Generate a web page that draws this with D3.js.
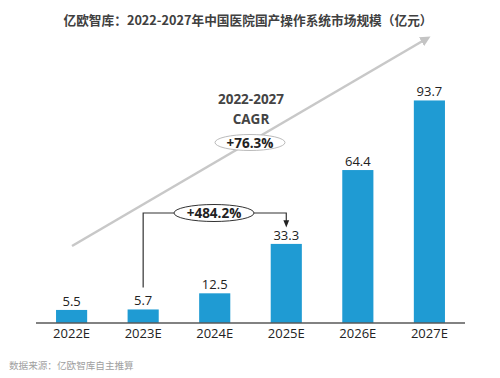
<!DOCTYPE html>
<html><head><meta charset="utf-8">
<script src="https://cdn.jsdelivr.net/npm/d3@7"></script>
<style>body{margin:0;background:#fff}svg{display:block}</style>
</head><body>
<svg id="c" width="500" height="378"></svg>
<script>
const categories = ["2022E","2023E","2024E","2025E","2026E","2027E"];
const values = [5.5, 5.7, 12.5, 33.3, 64.4, 93.7];
const valueLabels = ["5.5","5.7","12.5","33.3","64.4","93.7"];
const titleText = "亿欧智库：2022-2027年中国医院国产操作系统市场规模（亿元）";
const sourceText = "数据来源：亿欧智库自主推算";
const cagrLines = ["2022-2027","CAGR"];
const cagrValue = "+76.3%";
const growthLabel = "+484.2%";

const font = "'Noto Sans CJK SC','Noto Sans',sans-serif";
const svg = d3.select("#c");
const x = d3.scaleBand().domain(categories).range([36,465]).paddingInner(0.565).paddingOuter(0.28);
const y = d3.scaleLinear().domain([0,100]).range([323, 85.5]);

svg.append("text").attr("x",248).attr("y",25).attr("text-anchor","middle")
  .attr("font-family",font).attr("font-weight","bold").attr("font-size",12.7).attr("fill","#404040").text(titleText);

// CAGR arrow
const defs = svg.append("defs");
defs.append("marker").attr("id","ga").attr("viewBox","0 0 10 10").attr("refX",5).attr("refY",5)
  .attr("markerWidth",4).attr("markerHeight",4).attr("orient","auto")
  .append("path").attr("d","M0,0L10,5L0,10Z").attr("fill","#c4c4c4");
defs.append("marker").attr("id","ba").attr("viewBox","0 0 10 10").attr("refX",5).attr("refY",5)
  .attr("markerWidth",6).attr("markerHeight",6).attr("orient","auto")
  .append("path").attr("d","M0,1L10,5L0,9Z").attr("fill","#222");
svg.append("line").attr("x1",72).attr("y1",246).attr("x2",426).attr("y2",39)
  .attr("stroke","#c8c8c8").attr("stroke-width",2.6).attr("marker-end","url(#ga)");

// bars
svg.selectAll("rect.bar").data(values).join("rect").attr("class","bar")
  .attr("x",(d,i)=>x(categories[i])).attr("width",x.bandwidth())
  .attr("y",d=>y(d)).attr("height",d=>y(0)-y(d)).attr("fill","#1f9bd3");
svg.selectAll("text.val").data(values).join("text").attr("class","val")
  .attr("x",(d,i)=>x(categories[i])+x.bandwidth()/2).attr("y",d=>y(d)-4)
  .attr("text-anchor","middle").attr("font-family","'Open Sans',sans-serif").attr("font-size",13).attr("fill","#222")
  .text((d,i)=>valueLabels[i]);

// axis
const ax = svg.append("g").attr("transform","translate(0,323)")
  .call(d3.axisBottom(x).tickSize(0).tickPadding(6));
ax.select(".domain").attr("stroke","#595959").attr("stroke-width",1.5).attr("d","M36,0H465");
ax.selectAll("text").attr("font-family","'Open Sans',sans-serif").attr("font-size",13).attr("fill","#222");

// bracket
const cx1 = x(categories[1])+x.bandwidth()/2, cx2 = x(categories[3])+x.bandwidth()/2;
const by = 213;
svg.append("path").attr("d",`M${cx1},${y(values[1])-22}V${by}H174`).attr("fill","none").attr("stroke","#333").attr("stroke-width",1.2);
svg.append("path").attr("d",`M254,${by}H${cx2}V${y(values[3])-20}`).attr("fill","none").attr("stroke","#333").attr("stroke-width",1.2).attr("marker-end","url(#ba)");
svg.append("ellipse").attr("cx",214).attr("cy",by).attr("rx",40).attr("ry",8.5).attr("fill","#fff").attr("stroke","#333").attr("stroke-width",1);
svg.append("text").attr("x",214).attr("y",by+5).attr("text-anchor","middle").attr("font-family","'Open Sans',sans-serif").attr("font-weight","bold").attr("font-size",13.5).attr("fill","#222").text(growthLabel);

// CAGR label
svg.selectAll("text.cagr").data(cagrLines).join("text").attr("class","cagr")
  .attr("x",251).attr("y",(d,i)=>104+i*20).attr("text-anchor","middle").attr("font-family","'Open Sans',sans-serif")
  .attr("font-weight","bold").attr("font-size",13.5).attr("fill","#444").text(d=>d);
svg.append("ellipse").attr("cx",250).attr("cy",142.5).attr("rx",35).attr("ry",8).attr("fill","#fff").attr("stroke","#bbb").attr("stroke-width",1);
svg.append("text").attr("x",250).attr("y",147.5).attr("text-anchor","middle").attr("font-family","'Open Sans',sans-serif").attr("font-weight","bold").attr("font-size",13.5).attr("fill","#222").text(cagrValue);

svg.append("text").attr("x",9).attr("y",369).attr("font-family",font).attr("font-size",9.6).attr("fill","#a0a0a0").text(sourceText);
</script>
</body></html>
